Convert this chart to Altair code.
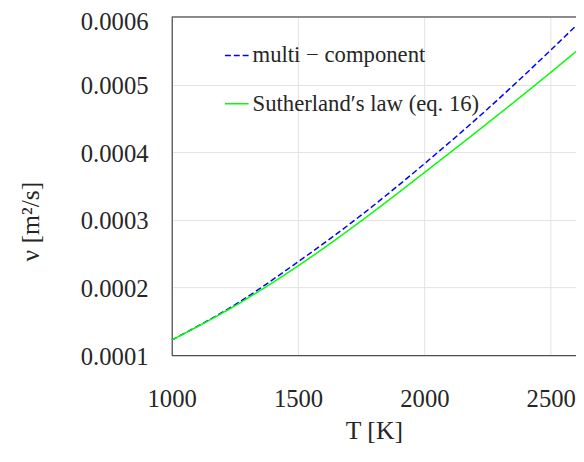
import altair as alt
import pandas as pd

# Temperature samples [K]
T = [1000, 1250, 1500, 1750, 2000, 2250, 2500, 2600]
# kinematic viscosity [m^2/s]
nu_multi = [0.0001223, 0.0001745, 0.000238, 0.000307, 0.000383, 0.000464, 0.000551, 0.000587]
nu_suth = [0.0001223, 0.000173, 0.000232, 0.0002985, 0.000370, 0.000443, 0.000518, 0.000549]

series = ["multi − component", "Sutherland′s law (eq. 16)"]
colors = ["#0000ff", "#00ff00"]
dashes = [[6, 3], [1, 0]]
x_ticks = [1000, 1500, 2000, 2500]
y_ticks = [0.0001, 0.0002, 0.0003, 0.0004, 0.0005, 0.0006]

df = pd.DataFrame({
    "T": T * 2,
    "nu": nu_multi + nu_suth,
    "series": [series[0]] * len(T) + [series[1]] * len(T),
})

FONT = "Liberation Serif"
TXT = "#262626"

legend = alt.Legend(
    title=None, orient="none", legendX=53, legendY=26,
    symbolType="stroke", symbolSize=576, symbolStrokeWidth=1.5,
    labelFont=FONT, labelFontSize=23, labelColor=TXT, labelOffset=3,
    rowPadding=24, labelLimit=0,
)

lines = alt.Chart(df).mark_line(strokeWidth=1.5, interpolate="monotone", clip=True).encode(
    x=alt.X("T:Q", scale=alt.Scale(domain=[1000, 2600], nice=False, zero=False),
            axis=alt.Axis(values=x_ticks, format="d", title="T [K]", labelFlush=False,
                          labelFont=FONT, titleFont=FONT,
                          titleY=84, titleBaseline="alphabetic", labelPadding=32)),
    y=alt.Y("nu:Q", scale=alt.Scale(domain=[0.0001, 0.0006], nice=False, zero=False),
            axis=alt.Axis(values=y_ticks, format=".4f", title="ν [m²/s]", labelFlush=False,
                          labelFont=FONT, titleFont=FONT,
                          labelOffset={"condition": {"test": "datum.value >= 0.00059", "value": 5}, "value": 1},
                          titleX=-143, titleY=207, titleAngle=270,
                          titleAlign="center", titleBaseline="middle", labelPadding=24)),
    color=alt.Color("series:N", scale=alt.Scale(domain=series, range=colors), sort=series, legend=legend),
    strokeDash=alt.StrokeDash("series:N", scale=alt.Scale(domain=series, range=dashes), sort=series, legend=legend),
)

top = alt.Chart(pd.DataFrame({"a": [0]})).mark_rule(color=TXT, strokeWidth=1).encode(
    x=alt.value(0), x2=alt.value(411), y=alt.value(0)
)

chart = alt.layer(lines, top).properties(
    width=410, height=343,
    autosize="none",
    padding={"left": 166, "top": 6, "right": 0, "bottom": 89},
).configure_view(stroke=None).configure_axis(
    labelFont=FONT, labelFontSize=25, labelColor=TXT,
    titleFont=FONT, titleFontSize=26, titleColor=TXT, titleFontWeight="normal",
    domainColor=TXT, domainWidth=1, ticks=False,
    gridColor="#e3e3e3", gridWidth=1,
)

chart.save("out.html", embed_options={"renderer": "svg", "actions": False})
